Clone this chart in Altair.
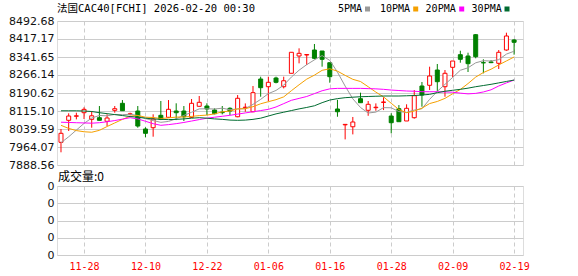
import altair as alt
import pandas as pd

# ---------------- data ----------------
dates = ["11-25", "11-26", "11-27", "11-28",
         "12-01", "12-02", "12-03", "12-04", "12-05", "12-08", "12-09", "12-10",
         "12-11", "12-12", "12-15", "12-16", "12-17", "12-18", "12-19", "12-22",
         "12-23", "12-24", "12-29", "12-30", "12-31", "01-02", "01-05", "01-06",
         "01-07", "01-08", "01-09", "01-12", "01-13", "01-14", "01-15", "01-16",
         "01-19", "01-20", "01-21", "01-22", "01-23", "01-26", "01-27", "01-28",
         "01-29", "01-30", "02-02", "02-03", "02-04", "02-05", "02-06", "02-09",
         "02-10", "02-11", "02-12", "02-13", "02-16", "02-17", "02-18", "02-19"]

opens = [7983.7, 8076.0, 8093.0, 8108.0, 8080.0, 8087.0, 8071.9, 8118.0, 8147.4, 8102.0,
         8115.0, 8039.6, 8045.0, 8097.0, 8088.7, 8115.0, 8115.0, 8088.7, 8134.8, 8136.0,
         8119.3, 8110.0, 8126.4, 8091.0, 8129.0, 8112.0, 8249.3, 8217.0, 8253.5, 8217.0,
         8273.3, 8345.8, 8350.0, 8371.0, 8366.8, 8317.7, 8123.5, 8057.0, 8049.0, 8166.7,
         8118.0, 8129.0, 8151.0, 8094.0, 8124.8, 8073.2, 8087.0, 8220.0, 8222.9, 8287.0,
         8217.0, 8298.4, 8351.3, 8345.8, 8435.2, 8318.0, 8321.0, 8315.2, 8371.0, 8413.0]
highs = [8039.6, 8105.5, 8108.0, 8130.6, 8115.0, 8136.0, 8101.3, 8136.0, 8161.0, 8108.0,
         8136.0, 8046.7, 8101.3, 8157.0, 8161.0, 8147.4, 8136.0, 8165.4, 8178.0, 8147.4,
         8126.4, 8136.0, 8130.6, 8182.0, 8147.0, 8220.0, 8259.0, 8259.0, 8259.0, 8259.0,
         8361.4, 8378.0, 8354.0, 8396.2, 8366.8, 8317.7, 8162.0, 8060.0, 8090.0, 8192.0,
         8157.0, 8147.0, 8172.6, 8105.5, 8140.0, 8143.2, 8203.0, 8236.8, 8301.0, 8312.3,
         8287.0, 8324.8, 8368.0, 8359.7, 8438.1, 8332.0, 8329.0, 8371.0, 8443.6, 8417.2]
lows = [7941.8, 8031.2, 8080.0, 8081.5, 8045.0, 8076.0, 8052.2, 8108.0, 8116.4, 8097.0,
        8045.0, 8004.8, 8007.3, 8077.0, 8086.0, 8077.0, 8073.0, 8086.0, 8133.0, 8098.0,
        8101.3, 8101.0, 8098.0, 8089.0, 8112.0, 8110.0, 8175.0, 8157.0, 8231.0, 8210.0,
        8273.3, 8315.0, 8308.0, 8332.0, 8301.0, 8233.8, 8091.0, 7996.0, 8017.0, 8149.9,
        8095.0, 8116.0, 8119.0, 8021.5, 8070.2, 8073.2, 8083.0, 8133.0, 8203.0, 8199.0,
        8175.0, 8256.5, 8317.7, 8278.7, 8336.2, 8273.0, 8316.0, 8291.3, 8368.0, 8351.3]
closes = [8021.5, 8094.0, 8095.0, 8122.0, 8095.0, 8076.0, 8085.7, 8124.8, 8116.4, 8103.0,
          8052.0, 8021.5, 8081.5, 8080.0, 8122.2, 8107.9, 8091.0, 8147.4, 8151.6, 8123.5,
          8103.8, 8108.0, 8115.0, 8168.4, 8131.0, 8192.0, 8212.9, 8235.5, 8235.5, 8242.0,
          8361.4, 8357.0, 8352.0, 8336.2, 8332.0, 8259.0, 8112.0, 8059.0, 8069.0, 8149.9,
          8143.2, 8131.0, 8153.0, 8066.0, 8070.2, 8126.4, 8179.3, 8182.2, 8261.9, 8238.0,
          8273.3, 8324.8, 8332.0, 8313.6, 8342.9, 8317.0, 8318.0, 8361.4, 8429.7, 8403.3]

ma5 = [7982.0, 8007.0, 8035.0, 8063.0, 8085.5, 8096.4, 8094.7, 8100.7, 8099.6, 8101.2,
       8096.4, 8083.5, 8074.9, 8067.6, 8071.4, 8082.6, 8096.5, 8109.7, 8124.0, 8124.3,
       8123.5, 8126.9, 8120.4, 8123.7, 8125.2, 8142.9, 8163.9, 8188.0, 8201.4, 8223.6,
       8257.5, 8286.3, 8309.6, 8329.7, 8347.7, 8327.2, 8278.2, 8219.6, 8166.2, 8129.8,
       8106.6, 8110.4, 8129.2, 8128.6, 8112.7, 8109.3, 8119.0, 8124.8, 8164.0, 8197.6,
       8226.9, 8256.0, 8286.0, 8296.3, 8317.3, 8326.1, 8324.7, 8330.6, 8353.8, 8365.9]
ma10 = [8055.0, 8042.0, 8033.0, 8028.0, 8026.0, 8034.0, 8050.0, 8065.0, 8080.0, 8093.3,
        8096.4, 8089.1, 8087.8, 8083.6, 8086.3, 8089.5, 8090.0, 8092.3, 8095.8, 8097.9,
        8103.0, 8111.7, 8115.0, 8123.9, 8124.8, 8133.2, 8145.4, 8154.2, 8162.6, 8174.4,
        8200.2, 8225.1, 8248.8, 8265.6, 8285.7, 8292.4, 8282.3, 8264.6, 8248.0, 8238.8,
        8216.9, 8194.3, 8174.4, 8147.4, 8121.2, 8108.0, 8114.7, 8127.0, 8146.3, 8155.1,
        8168.1, 8187.5, 8205.4, 8230.2, 8257.4, 8276.5, 8290.4, 8308.3, 8325.1, 8341.6]
ma20 = [8068, 8067, 8066, 8065, 8064, 8066, 8070, 8075, 8081, 8087,
        8082, 8072, 8062, 8055, 8058, 8062, 8067, 8073, 8079, 8085,
        8089, 8093, 8097, 8102, 8107, 8112, 8117, 8122, 8132, 8146,
        8160, 8168, 8176, 8188, 8200, 8208, 8210, 8210, 8210, 8210,
        8209, 8208, 8206, 8203, 8201, 8199, 8198, 8196, 8196, 8196,
        8195, 8194, 8190, 8187, 8189, 8195, 8204, 8220, 8233, 8245]
ma30 = [8116, 8116, 8116, 8115, 8113, 8108, 8104, 8100, 8096, 8092,
        8089, 8085, 8082, 8080, 8079, 8080, 8082, 8085, 8087, 8085,
        8082, 8080, 8077, 8076, 8077, 8080, 8085, 8094, 8103, 8110,
        8117, 8124, 8130, 8137, 8150, 8161, 8167, 8171, 8173, 8175,
        8176, 8177, 8178, 8178, 8178, 8179, 8180, 8182, 8185, 8192,
        8198, 8202, 8206, 8211, 8217, 8222, 8227, 8233, 8239, 8245]
volumes = [0, 0, 0, 0, 0, 0, 0, 0, 0, 0, 0, 0, 0, 0, 0, 0, 0, 0, 0, 0,
           0, 0, 0, 0, 0, 0, 0, 0, 0, 0, 0, 0, 0, 0, 0, 0, 0, 0, 0, 0,
           0, 0, 0, 0, 0, 0, 0, 0, 0, 0, 0, 0, 0, 0, 0, 0, 0, 0, 0, 0]

ma_names = ["5PMA", "10PMA", "20PMA", "30PMA"]
price_ticks = [7888.56, 7964.07, 8039.59, 8115.10, 8190.62, 8266.14, 8341.65, 8417.17, 8492.68]
date_ticks = ["11-28", "12-10", "12-22", "01-06", "01-16", "01-28", "02-09", "02-19"]
volume_ticks = [0, 0.1, 0.2, 0.3, 0.4]
title_text = "法国CAC40[FCHI] 2026-02-20 00:30"
volume_label = "成交量"

# ---------------- styles ----------------
UP, DOWN = "#ff0000", "#008000"
MA_COLORS = ["#999999", "#f5a000", "#ff00ff", "#006b30"]
GRID = "#cccccc"
MONO = "DejaVu Sans Mono, Noto Sans CJK SC"

df = pd.DataFrame({
    "idx": list(range(len(dates))),
    "date": dates, "open": opens, "high": highs, "low": lows, "close": closes,
    "5PMA": ma5, "10PMA": ma10, "20PMA": ma20, "30PMA": ma30, "volume": volumes,
})
df["dir"] = ["up" if c >= o else "down" for o, c in zip(opens, closes)]
df["body_lo"] = df[["open", "close"]].min(axis=1)
df["body_hi"] = df[["open", "close"]].max(axis=1)

xscale = alt.Scale(type="point", domain=dates, padding=0.84, align=0.31)
yscale = alt.Scale(domain=[price_ticks[0], price_ticks[-1]], nice=False, zero=False)

x_main = alt.X("date:O", scale=xscale, sort=None,
               axis=alt.Axis(values=date_ticks, labels=False, ticks=False, domain=False,
                             grid=True, gridDash=[4, 3], gridColor=GRID, title=None))
y_axis = alt.Axis(values=price_ticks, format=".2f", grid=True, gridColor=GRID, ticks=False,
                  domain=False, labelPadding=3, title=None, labelOverlap=False,
                  tickCount=len(price_ticks),
                  labelFont="DejaVu Sans", labelFontSize=11, labelColor="#111111")

stroke_enc = alt.Stroke("dir:N", scale=alt.Scale(domain=["up", "down"], range=[UP, DOWN]), legend=None)
fill_enc = alt.Fill("dir:N", scale=alt.Scale(domain=["up", "down"], range=["#ffffff", DOWN]), legend=None)

base = alt.Chart(df)
wick = base.mark_rule(strokeWidth=1).encode(
    x=x_main, y=alt.Y("low:Q", scale=yscale, axis=y_axis), y2="high:Q", stroke=stroke_enc)
body = base.mark_bar(size=4, strokeWidth=1, opacity=1).encode(
    x=x_main, y=alt.Y("body_lo:Q", scale=yscale, axis=y_axis), y2="body_hi:Q",
    fill=fill_enc, stroke=stroke_enc)
lines = base.transform_fold(ma_names, as_=["ma", "value"]).mark_line(strokeWidth=1).encode(
    x=x_main, y=alt.Y("value:Q", scale=yscale, axis=y_axis),
    color=alt.Color("ma:N", scale=alt.Scale(domain=ma_names, range=MA_COLORS), legend=None),
    detail="ma:N",
    order=alt.Order("idx:Q"))

title = alt.Chart(pd.DataFrame({"t": [title_text]})).mark_text(
    align="left", baseline="middle", font=MONO, fontSize=10.5, color="#000000").encode(
    x=alt.value(0), y=alt.value(-12), text="t:N")

legend_layers = []
legend_text_x = [281, 323, 368.6, 414.6]
legend_sq_x = [310.5, 358.7, 404.7, 450]
for name, col, tx, sx in zip(ma_names, MA_COLORS, legend_text_x, legend_sq_x):
    legend_layers.append(alt.Chart(pd.DataFrame({"t": [name]})).mark_text(
        align="left", baseline="middle", font=MONO, fontSize=10, color="#000000").encode(
        x=alt.value(tx), y=alt.value(-12), text="t:N"))
    legend_layers.append(alt.Chart(pd.DataFrame({"t": [name]})).mark_square(
        size=25, opacity=1, color=col).encode(x=alt.value(sx), y=alt.value(-12)))

main = alt.layer(wick, body, lines, title, *legend_layers).properties(width=466, height=144)

x_vol = alt.X("date:O", scale=xscale, sort=None,
              axis=alt.Axis(values=date_ticks, labelColor="#ff0000", labelAngle=0, ticks=False,
                            domain=False, grid=True, gridDash=[4, 3], gridColor=GRID,
                            labelFont=MONO, labelFontSize=10, labelPadding=6,
                            labelOverlap=False, title=None))
vol_bars = base.mark_bar(size=4, color=DOWN).encode(
    x=x_vol,
    y=alt.Y("volume:Q", scale=alt.Scale(domain=[volume_ticks[0], volume_ticks[-1]], nice=False),
            axis=alt.Axis(values=volume_ticks, format=".0f", grid=True, gridColor=GRID,
                          ticks=False, domain=False, labelPadding=3, title=None,
                          labelFont="DejaVu Sans", labelFontSize=11, labelColor="#111111",
                          labelOverlap=False)))
vol_text = alt.Chart(df.tail(1)).transform_calculate(
    label=f"'{volume_label}:' + datum.volume").mark_text(
    align="left", baseline="middle", font="Noto Sans CJK SC", fontSize=12, color="#000000").encode(
    x=alt.value(1), y=alt.value(-9), text="label:N")
vol = alt.layer(vol_bars, vol_text).properties(width=466, height=69)

chart = alt.vconcat(main, vol, spacing=21, bounds="flush").properties(
    padding={"left": 8, "top": 3, "right": 4, "bottom": 2}
).configure_view(stroke="#a0a0a0", strokeWidth=1).configure(background="#ffffff")

chart.save("out.html", embed_options={"renderer": "svg", "actions": False})
